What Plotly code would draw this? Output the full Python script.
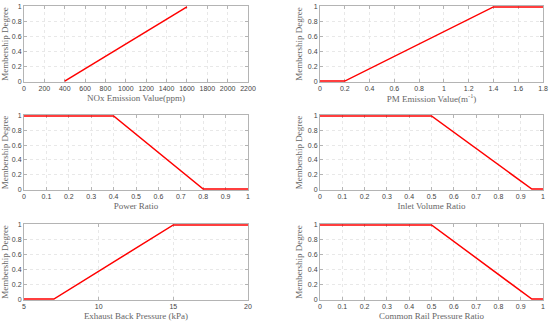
import plotly.graph_objects as go

# Data
nox_x = [400, 1600]
nox_y = [0, 1]
pm_x = [0, 0.2, 1.4, 1.8]
pm_y = [0, 0, 1, 1]
power_x = [0, 0.4, 0.8, 1]
power_y = [1, 1, 0, 0]
inlet_x = [0, 0.5, 0.95, 1]
inlet_y = [1, 1, 0, 0]
exhaust_x = [5, 7, 15, 20]
exhaust_y = [0, 0, 1, 1]
rail_x = [0, 0.5, 0.95, 1]
rail_y = [1, 1, 0, 0]

y_ticks = [0, 0.2, 0.4, 0.6, 0.8, 1]
y_ticktext = ["0", "0.2", "0.4", "0.6", "0.8", "1"]

panels = [
    (nox_x, nox_y, "NOx Emission Value(ppm)", [0, 2200], 200),
    (pm_x, pm_y, "PM Emission Value(m<sup>-1</sup>)", [0, 1.8], 0.2),
    (power_x, power_y, "Power Ratio", [0, 1], 0.1),
    (inlet_x, inlet_y, "Inlet Volume Ratio", [0, 1], 0.1),
    (exhaust_x, exhaust_y, "Exhaust Back Pressure (kPa)", [5, 20], 5),
    (rail_x, rail_y, "Common Rail Pressure Ratio", [0, 1], 0.1),
]

W, H = 550, 322
xdoms = [(24 / W, 248 / W), (320 / W, 543 / W)]
rows_px = [(6, 82), (115, 190), (224, 300)]
ydoms = [((H - b) / H, (H - t) / H) for t, b in rows_px]

fig = go.Figure()
label_font = dict(family="Liberation Serif", size=9, color="#666666")
tick_font = dict(family="Liberation Sans", size=7, color="#444444")

for i, (xs, ys, title, rng, dt) in enumerate(panels):
    r, c = divmod(i, 2)
    n = i + 1
    xa = "x" if n == 1 else f"x{n}"
    ya = "y" if n == 1 else f"y{n}"
    fig.add_trace(go.Scatter(x=xs, y=ys, mode="lines",
                             line=dict(color="#ff0000", width=1.5),
                             xaxis=xa, yaxis=ya, showlegend=False))
    xkey = "xaxis" if n == 1 else f"xaxis{n}"
    ykey = "yaxis" if n == 1 else f"yaxis{n}"
    fig.layout[xkey] = dict(
        domain=list(xdoms[c]), anchor=ya, range=rng, dtick=dt, tick0=rng[0],
        showgrid=True, gridcolor="#e8e8e8", griddash="dot", gridwidth=1,
        showline=True, linecolor="#b4b4b4", linewidth=1, mirror="ticks",
        ticks="inside", ticklen=3, tickcolor="#b4b4b4", layer="below traces",
        tickfont=tick_font, zeroline=False, automargin=False,
        title=dict(text=title, font=label_font, standoff=3),
    )
    fig.layout[ykey] = dict(
        domain=list(ydoms[r]), anchor=xa, range=[-0.012, 1.012],
        tickvals=y_ticks, ticktext=y_ticktext,
        showgrid=True, gridcolor="#e8e8e8", griddash="dot", gridwidth=1,
        showline=True, linecolor="#b4b4b4", linewidth=1, mirror="ticks",
        ticks="inside", ticklen=3, tickcolor="#b4b4b4", layer="below traces",
        tickfont=tick_font, zeroline=False, automargin=False,
        title=dict(text="Membership Degree", font=label_font, standoff=3),
    )

fig.update_layout(width=W, height=H, margin=dict(l=0, r=0, t=0, b=0),
                  plot_bgcolor="white", paper_bgcolor="white")
fig.write_html(
    "out.html",
    config={"displayModeBar": False},
    post_script="document.body.style.margin='0';document.body.style.overflow='hidden';",
)
